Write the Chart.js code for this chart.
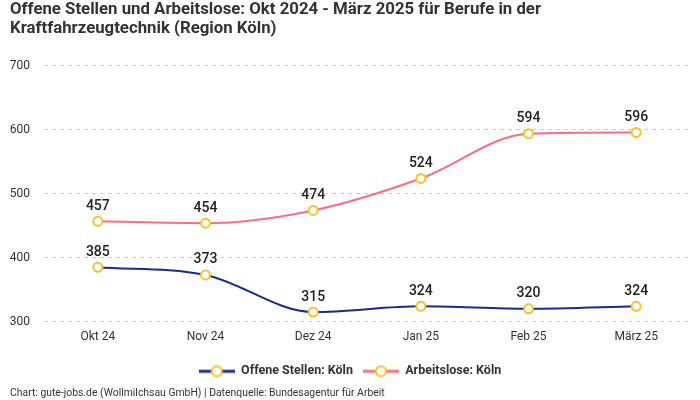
<!DOCTYPE html>
<html>
<head>
<meta charset="utf-8">
<script src="https://cdn.jsdelivr.net/npm/chart.js@4"></script>
<style>
html,body{margin:0;padding:0;background:#fff;}
#wrap{width:700px;height:400px;position:relative;}
</style>
</head>
<body>
<div id="wrap"><canvas id="c"></canvas></div>
<script>
const categories = ["Okt 24", "Nov 24", "Dez 24", "Jan 25", "Feb 25", "März 25"];
const offeneStellen = [385, 373, 315, 324, 320, 324];
const arbeitslose = [457, 454, 474, 524, 594, 596];
const seriesNames = ["Offene Stellen: Köln", "Arbeitslose: Köln"];
const titleLines = ["Offene Stellen und Arbeitslose: Okt 2024 - März 2025 für Berufe in der", "Kraftfahrzeugtechnik (Region Köln)"];
const footerText = "Chart: gute-jobs.de (Wollmilchsau GmbH) | Datenquelle: Bundesagentur für Arbeit";

const FONT = "Roboto, 'Noto Sans', sans-serif";
const BLUE = "#1a2b8f";
const PINK = "#ff6b81";
const YELLOW = "#fbc02d";

function legendIcon(color){
  const c = document.createElement('canvas');
  const w = 36, h = 14;
  c.width = w; c.height = h;
  const g = c.getContext('2d');
  g.strokeStyle = color; g.lineWidth = 3;
  g.beginPath(); g.moveTo(0, h/2); g.lineTo(w, h/2); g.stroke();
  g.beginPath(); g.arc(w/2, h/2, 5, 0, Math.PI*2);
  g.fillStyle = '#fff'; g.fill();
  g.strokeStyle = YELLOW; g.lineWidth = 2; g.stroke();
  return c;
}

const valueLabels = {
  id: 'valueLabels',
  afterDatasetsDraw(chart){
    const ctx = chart.ctx;
    ctx.save();
    ctx.font = "500 14px " + FONT;
    ctx.fillStyle = "#222";
    ctx.textAlign = "center";
    ctx.textBaseline = "bottom";
    chart.data.datasets.forEach((ds, i) => {
      const meta = chart.getDatasetMeta(i);
      meta.data.forEach((pt, j) => {
        ctx.fillText(String(ds.data[j]), pt.x, pt.y - 8);
      });
    });
    ctx.restore();
  }
};

new Chart(document.getElementById('c'), {
  type: 'line',
  data: {
    labels: categories,
    datasets: [
      {
        label: seriesNames[0],
        data: offeneStellen,
        borderColor: BLUE,
        borderWidth: 2,
        cubicInterpolationMode: 'monotone',
        pointRadius: 4.5,
        pointBorderWidth: 2,
        pointBackgroundColor: '#fff',
        pointBorderColor: YELLOW,
        pointStyle: 'circle',
        fill: false
      },
      {
        label: seriesNames[1],
        data: arbeitslose,
        borderColor: PINK,
        borderWidth: 2,
        cubicInterpolationMode: 'monotone',
        pointRadius: 4.5,
        pointBorderWidth: 2,
        pointBackgroundColor: '#fff',
        pointBorderColor: YELLOW,
        pointStyle: 'circle',
        fill: false
      }
    ]
  },
  options: {
    responsive: true,
    maintainAspectRatio: false,
    animation: false,
    layout: { padding: { left: 10, right: 10, top: 0, bottom: 0 } },
    scales: {
      x: {
        offset: true,
        afterFit(scale){ scale.height += 11; },
        grid: { display: false },
        border: { display: false },
        ticks: { color: '#333', font: { family: FONT, size: 12 }, padding: 0 }
      },
      y: {
        min: 300,
        max: 700,
        afterFit(scale){ scale.width = 34; },
        grid: { color: '#cccccc', drawTicks: false },
        border: { display: false, dash: [4, 4] },
        ticks: { stepSize: 100, color: '#333', font: { family: FONT, size: 12 }, padding: 14 }
      }
    },
    plugins: {
      title: {
        display: true,
        text: titleLines,
        align: 'start',
        color: '#333',
        font: { family: FONT, size: 16.8, weight: 'bold', lineHeight: 1.13 },
        padding: { top: 0, bottom: 28 }
      },
      subtitle: {
        display: true,
        position: 'bottom',
        text: footerText,
        align: 'start',
        color: '#333',
        font: { family: FONT, size: 10.4 },
        padding: { top: 0, bottom: 0 }
      },
      legend: {
        position: 'bottom',
        labels: {
          usePointStyle: true,
          pointStyleWidth: 36,
          color: '#333',
          font: { family: FONT, size: 12.5, weight: 'bold' },
          padding: 10,
          generateLabels(chart){
            return chart.data.datasets.map((ds, i) => ({
              text: ds.label,
              pointStyle: legendIcon(ds.borderColor),
              fillStyle: ds.borderColor,
              strokeStyle: ds.borderColor,
              lineWidth: 0,
              hidden: false,
              datasetIndex: i,
              fontColor: '#333'
            }));
          }
        }
      },
      tooltip: { enabled: false }
    }
  },
  plugins: [valueLabels]
});
</script>
</body>
</html>
